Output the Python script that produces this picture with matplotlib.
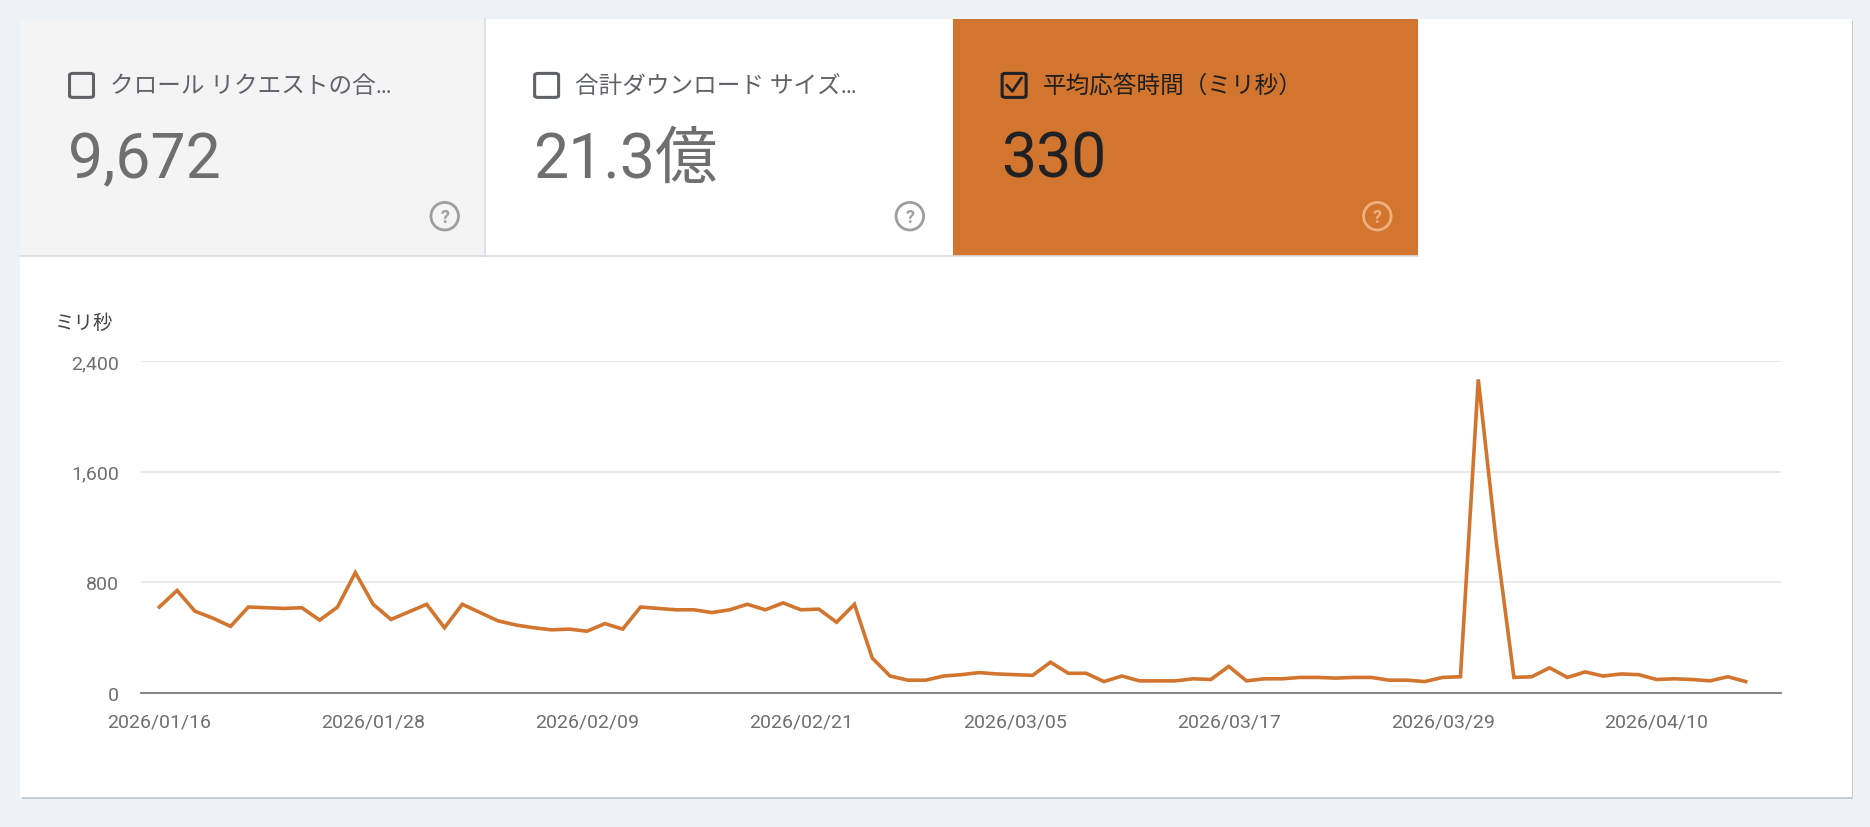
import numpy as np
import matplotlib.pyplot as plt
import matplotlib.patches as mpatches
import matplotlib.dates as mdates
import datetime as dt

plt.rcParams['font.family'] = ['Roboto', 'Noto Sans CJK JP', 'DejaVu Sans']

# ---- data ----
start = dt.date(2026, 1, 16)
response_ms = [
    620, 740, 590, 540, 480, 620, 615, 610, 615, 525,
    620, 870, 640, 530, 585, 640, 470, 640, 580, 520,
    490, 470, 455, 460, 445, 500, 460, 620, 610, 600,
    600, 580, 600, 640, 600, 650, 600, 605, 510, 640,
    250, 120, 90, 90, 120, 130, 145, 135, 130, 125,
    220, 140, 140, 80, 120, 85, 85, 85, 100, 95,
    190, 85, 100, 100, 110, 110, 105, 110, 110, 90,
    90, 80, 110, 115, 2270, 1100, 110, 115, 180, 110,
    150, 120, 135, 130, 95, 100, 95, 85, 115, 80,
]
dates = [start + dt.timedelta(days=i) for i in range(len(response_ms))]
yticks = [0, 800, 1600, 2400]
tab_titles = ["クロール リクエストの合…", "合計ダウンロード サイズ…", "平均応答時間（ミリ秒）"]
tab_values = ["9,672", "21.3億", "330"]

ORANGE = "#d2752e"
W, H = 1560, 690  # layout in reference display pixels


def fx(x):
    return x / W


def fy(y):
    return 1 - y / H


fig = plt.figure(figsize=(18.7, 8.28), dpi=100)
fig.patch.set_facecolor("#eef2f7")

# card
fig.add_artist(mpatches.Rectangle((fx(18), fy(667)), fx(1528), (667 - 18) / H, zorder=-3,
                                  transform=fig.transFigure, facecolor="#c9ccd0", edgecolor="none"))
fig.add_artist(mpatches.Rectangle((fx(17), fy(665)), fx(1528), (665 - 17) / H, zorder=-2,
                                  transform=fig.transFigure, facecolor="white", edgecolor="none"))

# tabs
tab_x = [17, 405, 795]
tab_fc = ["#f4f4f4", "white", ORANGE]
for i, (x0, fc) in enumerate(zip(tab_x, tab_fc)):
    fig.add_artist(mpatches.Rectangle((fx(x0), fy(214)), fx(388), (214 - 17) / H, zorder=-1,
                                      transform=fig.transFigure, facecolor=fc, edgecolor="none"))
    sel = i == 2
    tc = "#1f1f1f" if sel else "#5f6368"
    bx = x0 + 41
    fig.add_artist(mpatches.FancyBboxPatch((fx(bx), fy(82)), fx(20), 20 / H,
                                           boxstyle="round,pad=0,rounding_size=0.002",
                                           transform=fig.transFigure, facecolor="none",
                                           edgecolor="#202124" if sel else "#5f6368", linewidth=2.2))
    if sel:
        fig.add_artist(plt.Line2D([fx(bx + 4), fx(bx + 8.5), fx(bx + 16)],
                                  [fy(72), fy(77), fy(66)], transform=fig.transFigure,
                                  color="#202124", linewidth=2))
    fig.text(fx(bx + 34), fy(72), tab_titles[i], fontsize=17, color=tc, va="center", ha="left")
    fig.text(fx(x0 + 40), fy(134), tab_values[i], fontsize=45, color="#202124" if sel else "#6f6f6f",
             va="center", ha="left")
    qc = "#f0b07e" if sel else "#9e9e9e"
    fig.add_artist(mpatches.Ellipse((fx(x0 + 354), fy(181)), 23 / W, 23 / H, transform=fig.transFigure,
                                    facecolor="none", edgecolor=qc, linewidth=2))
    fig.text(fx(x0 + 354), fy(181.5), "?", fontsize=13, fontweight="bold", color=qc,
             ha="center", va="center")
fig.add_artist(plt.Line2D([fx(17), fx(1183)], [fy(214), fy(214)], transform=fig.transFigure,
                          color="#dadce0", linewidth=1.2))
fig.add_artist(plt.Line2D([fx(404.5), fx(404.5)], [fy(17), fy(214)], transform=fig.transFigure,
                          color="#dadce0", linewidth=1.2))

# chart
ax = fig.add_axes([fx(118), fy(578), fx(1486 - 118), (578 - 302) / H], zorder=5)
ax.plot(dates, response_ms, color=ORANGE, linewidth=2.6, solid_joinstyle="miter")
ax.set_ylim(0, 2400)
ax.set_xlim(dates[0] - dt.timedelta(days=1.1), dates[0] + dt.timedelta(days=91))
ax.set_yticks(yticks)
ax.set_yticklabels([f"{v:,}" for v in yticks])
tick_dates = [start + dt.timedelta(days=12 * k) for k in range(8)]
ax.set_xticks(tick_dates)
ax.set_xticklabels([d.strftime("%Y/%m/%d") for d in tick_dates])
ax.grid(axis="y", color="#e6e6e6", linewidth=1.2)
ax.set_axisbelow(True)
for s in ["top", "right", "left"]:
    ax.spines[s].set_visible(False)
ax.spines["bottom"].set_color("#7a7a7a")
ax.spines["bottom"].set_linewidth(1.3)
ax.tick_params(length=0, labelsize=14, colors="#6f6f6f", pad=14)
ax.tick_params(axis="y", pad=16)
ax.set_facecolor("none")
fig.text(fx(46), fy(270), "ミリ秒", fontsize=14, color="#444444", va="center", ha="left")

fig.savefig("out.png", dpi=100, facecolor=fig.get_facecolor())
